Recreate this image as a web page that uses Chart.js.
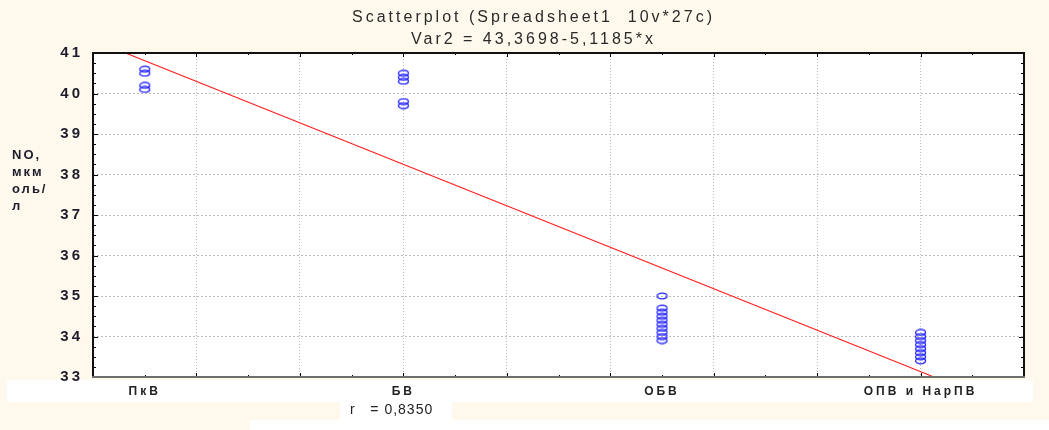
<!DOCTYPE html>
<html>
<head>
<meta charset="utf-8">
<script src="https://cdn.jsdelivr.net/npm/chart.js@4"></script>
<style>
  html, body { margin: 0; padding: 0; background: #fff8ec; }
  #wrap { width: 1049px; height: 430px; }
</style>
</head>
<body>
<div id="wrap"><canvas id="scatter"></canvas></div>
<script>
// Groups on the x axis (coded 0.5 .. 2.0)
const categories = ['ПкВ', 'БВ', 'ОБВ', 'ОПВ и НарПВ'];
const categoryX = [0.5, 1, 1.5, 2];

// NO values per group
const pkvValues = [40.6, 40.5, 40.2, 40.1];
const bvValues = [40.5, 40.4, 40.3, 39.8, 39.7];
const obvValues = [35.0, 34.7, 34.6, 34.5, 34.4, 34.3, 34.2, 34.1, 34.0, 33.9];
const opvValues = [34.1, 34.0, 33.9, 33.8, 33.7, 33.6, 33.5, 33.4];
const groupValues = [pkvValues, bvValues, obvValues, opvValues];

// Fit line and axis ranges
const fitIntercept = 43.3698;
const fitSlope = -5.1185;
const correlation = 0.835;
const xRange = [0.4, 2.2];
const yRange = [33, 41];
const yLabelLines = ['NO,', 'мкм', 'оль/', 'л'];

const comma = (v, d) => v.toFixed(d).replace('.', ',');

// Build scatter points from the groups
const points = [];
groupValues.forEach((vals, i) => {
  vals.forEach(v => points.push({ x: categoryX[i], y: v }));
});

const fitLine = xRange.map(x => ({ x: x, y: fitIntercept + fitSlope * x }));

// Oval marker (Statistica draws them wide)
function makeMarker() {
  const c = document.createElement('canvas');
  c.width = 13;
  c.height = 8;
  const g = c.getContext('2d');
  g.strokeStyle = '#2222ff';
  g.lineWidth = 1.3;
  g.beginPath();
  g.ellipse(6.5, 4, 5, 2.8, 0, 0, Math.PI * 2);
  g.stroke();
  return c;
}

const FONT = '"Liberation Sans", Arial, sans-serif';

function setSpacing(chart, px) {
  if ('letterSpacing' in chart.ctx) chart.ctx.letterSpacing = px;
}

// Backgrounds, inward ticks, frame and loose texts
const statFrame = {
  id: 'statFrame',
  beforeLayout(chart) { setSpacing(chart, '3px'); },
  beforeDraw(chart) {
    const ctx = chart.ctx;
    const a = chart.chartArea;
    setSpacing(chart, '3px');
    ctx.save();
    ctx.fillStyle = '#fff8ec';
    ctx.fillRect(0, 0, chart.width, chart.height);
    ctx.fillStyle = '#ffffff';
    ctx.fillRect(7, a.bottom + 3, a.right + 9 - 7, 22);
    ctx.fillRect(340, a.bottom + 25, 112, 18);
    ctx.fillRect(250, a.bottom + 43, chart.width - 250, chart.height - a.bottom - 43);
    ctx.fillRect(a.left, a.top, a.right - a.left, a.bottom - a.top);
    ctx.restore();
  },
  afterDraw(chart) {
    const ctx = chart.ctx;
    const a = chart.chartArea;
    const xs = chart.scales.x;
    const ys = chart.scales.y;
    ctx.save();
    ctx.strokeStyle = '#000';
    ctx.lineWidth = 1;
    ctx.beginPath();
    // y ticks every 0.25, major on whole numbers
    for (let i = yRange[0] * 4; i <= yRange[1] * 4; i++) {
      const py = Math.round(ys.getPixelForValue(i / 4)) + 0.5;
      const len = i % 4 === 0 ? 5 : 3;
      ctx.moveTo(a.left, py); ctx.lineTo(a.left + len, py);
      ctx.moveTo(a.right, py); ctx.lineTo(a.right - len, py);
    }
    // x ticks every 0.1, major every 0.2
    for (let i = Math.round(xRange[0] * 10); i <= Math.round(xRange[1] * 10); i++) {
      const px = Math.round(xs.getPixelForValue(i / 10)) + 0.5;
      const len = i % 2 === 0 ? 4 : 2;
      ctx.moveTo(px, a.top); ctx.lineTo(px, a.top + len);
      ctx.moveTo(px, a.bottom); ctx.lineTo(px, a.bottom - len);
    }
    ctx.stroke();

    // frame
    ctx.lineWidth = 2;
    ctx.strokeStyle = '#111';
    ctx.beginPath();
    ctx.moveTo(a.left, a.bottom); ctx.lineTo(a.left, a.top);
    ctx.lineTo(a.right, a.top); ctx.lineTo(a.right, a.bottom);
    ctx.stroke();
    ctx.strokeStyle = '#6e6e6e';
    ctx.beginPath();
    ctx.moveTo(a.left - 1, a.bottom); ctx.lineTo(a.right + 1, a.bottom);
    ctx.stroke();

    // y axis title, wrapped like the original
    ctx.fillStyle = '#1c1c2c';
    ctx.font = 'bold 13px ' + FONT;
    ctx.textAlign = 'left';
    ctx.textBaseline = 'middle';
    ctx.letterSpacing = '2px';
    yLabelLines.forEach((t, i) => ctx.fillText(t, 12, 155 + i * 17));

    // correlation note
    ctx.fillStyle = '#222';
    ctx.font = '14px ' + FONT;
    ctx.letterSpacing = '1px';
    ctx.fillText('r   = ' + comma(correlation, 4), 350, a.bottom + 33);
    ctx.restore();
  }
};

const xTickValues = [];
for (let i = Math.round(xRange[0] * 10); i <= Math.round(xRange[1] * 10); i++) xTickValues.push(i / 10);

function isMajorX(v) {
  const k = Math.round(v * 10);
  return k % 2 === 0 && k > Math.round(xRange[0] * 10) && k < Math.round(xRange[1] * 10);
}

const chart = new Chart(document.getElementById('scatter'), {
  type: 'scatter',
  data: {
    datasets: [
      {
        type: 'line',
        data: fitLine,
        borderColor: '#ff1e1e',
        borderWidth: 1.1,
        pointRadius: 0,
        fill: false,
        order: 2
      },
      {
        data: points,
        pointStyle: makeMarker(),
        pointRadius: 4,
        order: 1
      }
    ]
  },
  options: {
    responsive: true,
    maintainAspectRatio: false,
    animation: false,
    layout: { padding: { left: 43, right: 25, top: 0, bottom: 0 } },
    plugins: {
      legend: { display: false },
      tooltip: { enabled: false },
      title: {
        display: true,
        text: ['Scatterplot (Spreadsheet1  10v*27c)',
               'Var2 = ' + comma(fitIntercept, 4) + '-' + comma(-fitSlope, 4) + '*x'],
        color: '#2a2a2a',
        font: { family: FONT, size: 16, weight: 'normal', lineHeight: 1.36 },
        padding: { top: 7, bottom: 2.5 }
      }
    },
    scales: {
      x: {
        type: 'linear',
        min: xRange[0],
        max: xRange[1],
        afterBuildTicks: s => { s.ticks = xTickValues.map(v => ({ value: v })); },
        afterFit: s => { s.height = 53; },
        border: { display: false, dash: [1, 2] },
        grid: {
          drawTicks: false,
          color: c => (c.tick && isMajorX(c.tick.value)) ? '#bdbdbd' : 'rgba(0,0,0,0)',
          lineWidth: 1
        },
        ticks: {
          autoSkip: false,
          maxRotation: 0,
          padding: 7,
          color: '#222',
          font: { family: FONT, size: 12, weight: 'bold' },
          callback: v => {
            const i = categoryX.findIndex(c => Math.abs(c - v) < 1e-6);
            return i >= 0 ? categories[i] : '';
          }
        }
      },
      y: {
        min: yRange[0],
        max: yRange[1],
        afterFit: s => { s.width = 50; },
        border: { display: false, dash: [2, 2] },
        grid: {
          drawTicks: false,
          color: c => (c.tick && c.tick.value > yRange[0] && c.tick.value < yRange[1]) ? '#bdbdbd' : 'rgba(0,0,0,0)'
        },
        ticks: {
          stepSize: 1,
          padding: 10,
          color: '#1c1c2c',
          font: { family: FONT, size: 15, weight: 'bold' }
        }
      }
    }
  },
  plugins: [statFrame]
});
</script>
</body>
</html>
